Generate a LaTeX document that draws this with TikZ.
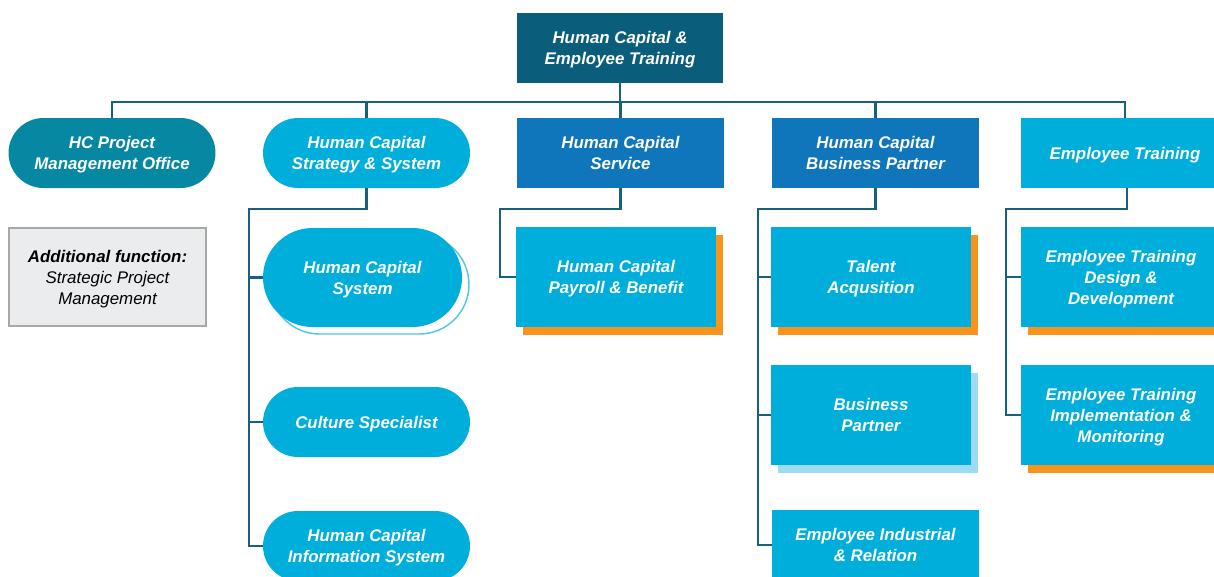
\documentclass[tikz,border=0pt]{standalone}
\usepackage{fontspec}
\setmainfont{Liberation Sans}
\usepackage{xcolor}
\usepackage{tikz}
\usetikzlibrary{shadows}

\definecolor{hctop}{HTML}{0B5D7C}
\definecolor{hcteal}{HTML}{0788A2}
\definecolor{hclight}{HTML}{00AEDC}
\definecolor{hcmid}{HTML}{1076BC}
\definecolor{hcline}{HTML}{17607F}
\definecolor{hcorange}{HTML}{F7941D}
\definecolor{hcpale}{HTML}{9CDBF3}
\definecolor{hcgrayfill}{HTML}{EBECEE}
\definecolor{hcgrayline}{HTML}{A8A8A8}

\tikzset{
  lvlone/.style={minimum width=4.14cm,minimum height=1.4cm},
  subbox/.style={minimum width=4cm,minimum height=2cm},
  pill/.style={rounded corners=0.7cm},
  orangeshadow/.style={drop shadow={shadow xshift=0.14cm,shadow yshift=-0.16cm,fill=hcorange,opacity=1}},
  paleshadow/.style={drop shadow={shadow xshift=0.14cm,shadow yshift=-0.16cm,fill=hcpale,opacity=1}}
}

\begin{document}
\begin{tikzpicture}[x=0.02cm,y=-0.02cm]
\useasboundingbox (0,0) rectangle (1214,576);
\clip (0,0) rectangle (1214,576);

\begin{scope}[every node/.style={text=white,align=center,inner sep=2pt,text depth=-3.3pt,
              font=\fontsize{9.6}{11.9}\selectfont\bfseries\itshape}]
    \node[fill=hctop,minimum width=4.12cm,minimum height=1.4cm] (A) at (620,48) {Human Capital \&\\Employee Training};

    \node[lvlone,pill,fill=hcteal] (B) at (112,153) {HC Project\\Management Office};
    \node[lvlone,pill,fill=hclight] (C) at (366.5,153) {Human Capital\\Strategy \& System};
    \node[lvlone,fill=hcmid] (D) at (620.5,153) {Human Capital\\Service};
    \node[lvlone,fill=hcmid] (E) at (875.5,153) {Human Capital\\Business Partner};
    \node[lvlone,fill=hclight,minimum width=4.16cm] (F) at (1125,153) {Employee Training};

    \node[fill=hclight,minimum width=3.98cm,minimum height=1.98cm,rounded corners=0.99cm,
          drop shadow={shadow xshift=0.14cm,shadow yshift=-0.14cm,fill=white,draw=hclight!70,line width=0.8pt,opacity=1}]
          (H) at (362.5,277.5) {Human Capital\\System};
    \node[lvlone,pill,fill=hclight] (I) at (366.5,422) {Culture Specialist};
    \node[lvlone,pill,fill=hclight] (J) at (366.5,546) {Human Capital\\Information System};

    \node[subbox,fill=hclight,orangeshadow] (K) at (616,277) {Human Capital\\Payroll \& Benefit};

    \node[subbox,fill=hclight,orangeshadow] (L) at (871,277) {Talent\\Acqusition};
    \node[subbox,fill=hclight,paleshadow] (M) at (871,415) {Business\\Partner};
    \node[lvlone,fill=hclight] (N) at (875.5,545) {Employee Industrial\\\& Relation};

    \node[subbox,fill=hclight,orangeshadow] (O) at (1121,277) {Employee Training\\Design \&\\Development};
    \node[subbox,fill=hclight,orangeshadow] (P) at (1121,415) {Employee Training\\Implementation \&\\Monitoring};

    \node[subbox,minimum width=3.94cm,minimum height=1.96cm,fill=hcgrayfill,draw=hcgrayline,line width=1.5pt,
          text=black,font=\fontsize{9.6}{11.9}\selectfont\itshape]
          (G) at (107.5,277) {\textbf{Additional function:}\\Strategic Project\\Management};
\end{scope}

\begin{scope}[draw=hcline,line width=1.2pt]
    \coordinate (bus) at (0,102);
    \coordinate (c1) at (249,209);
    \coordinate (c2) at (500,209);
    \coordinate (c3) at (758,209);
    \coordinate (c4) at (1006,209);

    \draw (A.south) -- (A.south |- bus);
    \draw (B.north) -- (B.north |- bus) -- (F.north |- bus) -- (F.north);
    \draw (C.north) -- (C.north |- bus);
    \draw (D.north) -- (D.north |- bus);
    \draw (E.north) -- (E.north |- bus);

    \draw (C.south) |- (c1) |- (J.west);
    \draw (c1 |- H.west) -- (H.west);
    \draw (c1 |- I.west) -- (I.west);

    \draw (D.south) |- (c2) |- (K.west);

    \draw (E.south) |- (c3) |- (N.west);
    \draw (c3 |- L.west) -- (L.west);
    \draw (c3 |- M.west) -- (M.west);

    \draw (F.south -| 1127,0) |- (c4) |- (P.west);
    \draw (c4 |- O.west) -- (O.west);
\end{scope}

\end{tikzpicture}
\end{document}
